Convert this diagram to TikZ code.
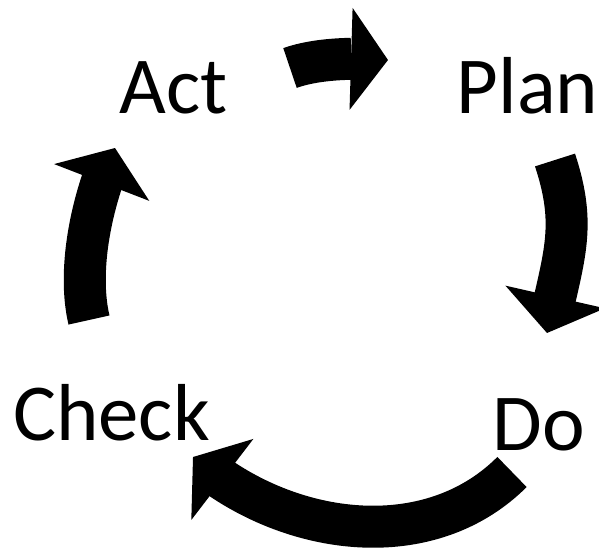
\documentclass[tikz,border=0pt]{standalone}
\usepackage{fontspec}
\setmainfont{Carlito}
\usetikzlibrary{arrows.meta,bending}
\begin{document}
\begin{tikzpicture}[
  x=0.02cm, y=-0.02cm,
  word/.style={inner sep=0pt, anchor=base, font=\fontsize{46}{50}\selectfont},
  cyc/.style={line width=0.84cm, -{Triangle[width=0pt 2.4, length=0pt 0.88, line width=4pt]}}
]
\useasboundingbox (0,0) rectangle (599,548);
\node[word] (act) at (173.5,113) {Act};
\node[word] (plan) at (527.5,113) {Plan};
\node[word] (do) at (539,450) {Do};
\node[word] (check) at (111.5,440) {Check};

\coordinate (actout) at (290,68);
\coordinate (planin) at (388,60);
\coordinate (planout) at (555,160);
\coordinate (doin) at (547,333);
\coordinate (doout) at (512,472);
\coordinate (checkin) at (193,457);
\coordinate (checkout) at (89,320);
\coordinate (actin) at (115,148);

\draw[cyc] (actout) .. controls (318,58) and (358,57.5) .. (planin);
\draw[cyc] (planout) .. controls (577,227) and (564,255) .. (doin);
\draw[cyc] (doout) .. controls (427,557) and (283,536) .. (checkin);
\draw[cyc] (checkout) .. controls (77.5,271.5) and (90.4,202.6) .. (actin);
\end{tikzpicture}
\end{document}
